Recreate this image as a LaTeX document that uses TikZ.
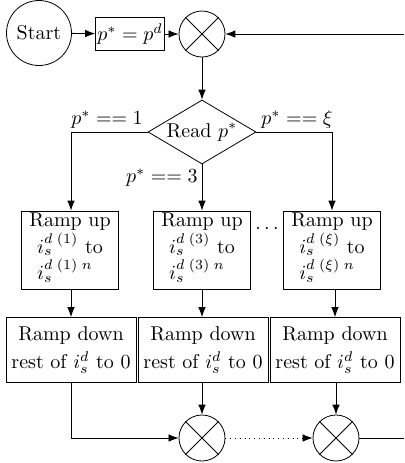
\documentclass[tikz,border=0pt]{standalone}
\usetikzlibrary{shapes.geometric,arrows.meta}
\newcommand{\upcontent}[1]{Ramp up\\[0pt]\begin{tabular}{@{}l@{}}$i_s^{d\;(#1)}$ to\\[-1pt] $i_s^{d\;(#1)\;n}$\end{tabular}}
\begin{document}
\begin{tikzpicture}[x=0.5pt,y=-0.5pt,
  arr/.style={-{Latex[length=5pt,width=3.8pt]}},
  startnode/.style={draw,circle,minimum size=32.5pt,inner sep=0pt},
  sumnode/.style={draw,circle,minimum size=23pt,inner sep=0pt},
  initbox/.style={draw,rectangle,minimum width=34.5pt,minimum height=16.5pt,inner sep=0.8pt},
  decide/.style={draw,diamond,aspect=1.7,minimum width=54pt,minimum height=32pt,inner sep=0pt},
  upbox/.style={draw,rectangle,minimum width=48.5pt,minimum height=39pt,inner xsep=1pt,inner ysep=1pt,align=center},
  downbox/.style={draw,rectangle,minimum width=65pt,minimum height=32.5pt,inner sep=1pt,align=center},
  lbl/.style={inner sep=1pt}]
\useasboundingbox (0,0) rectangle (404,463);
\node[startnode] (start) at (39,33) {Start};
\node[initbox] (init) at (130,34) {$p^*=p^d$};
\node[sumnode] (sum0) at (202,34) {};
\coordinate (fb) at (404,34);
\node[decide] (read) at (202,132) {Read $p^*$};
\node[upbox] (ru1) at (70,250) {\upcontent{1}};
\node[upbox] (ru2) at (202,250) {\upcontent{3}};
\node[upbox] (ru3) at (332,250) {\upcontent{\xi}};
\node[lbl] (dots) at (267,228) {$\dots$};
\node[downbox] (rd1) at (71,350) {Ramp down\\[2pt] rest of $i_s^d$ to 0};
\node[downbox] (rd2) at (203,350) {Ramp down\\[2pt] rest of $i_s^d$ to 0};
\node[downbox] (rd3) at (335,350) {Ramp down\\[2pt] rest of $i_s^d$ to 0};
\node[sumnode] (sumA) at (202,438) {};
\node[sumnode] (sumB) at (336,438) {};
\coordinate (out) at (404,438);
\coordinate (c1) at (71,132);
\coordinate (c3) at (332,132);
\node[lbl,anchor=south] (l1) at (107,131) {$p^*==1$};
\node[lbl,anchor=south] (l3) at (297,131) {$p^*==\xi$};
\node[lbl,anchor=east] (l2) at (200,178) {$p^*==3$};
\foreach \s in {sum0,sumA,sumB}{
  \draw (\s.45) -- (\s.225);
  \draw (\s.135) -- (\s.-45);
}
\draw[arr] (start) -- (init);
\draw[arr] (init) -- (sum0);
\draw[arr] (fb) -- (sum0);
\draw[arr] (sum0) -- (read);
\draw[arr] (read.west) -- (c1) -- (ru1.north -| c1);
\draw[arr] (read.east) -- (c3) -- (ru3.north -| c3);
\draw[arr] (read) -- (ru2);
\draw[arr] (ru1.south -| rd1) -- (rd1.north);
\draw[arr] (ru2.south) -- (ru2.south |- rd2.north);
\draw[arr] (ru3.south -| rd3) -- (rd3.north);
\draw[arr] (rd1.south) |- (sumA.west);
\draw[arr] (rd2.south -| sumA) -- (sumA);
\draw[arr,dotted] (sumA) -- (sumB);
\draw[arr] (rd3.south -| sumB) -- (sumB);
\draw (sumB) -- (out);
\end{tikzpicture}
\end{document}
